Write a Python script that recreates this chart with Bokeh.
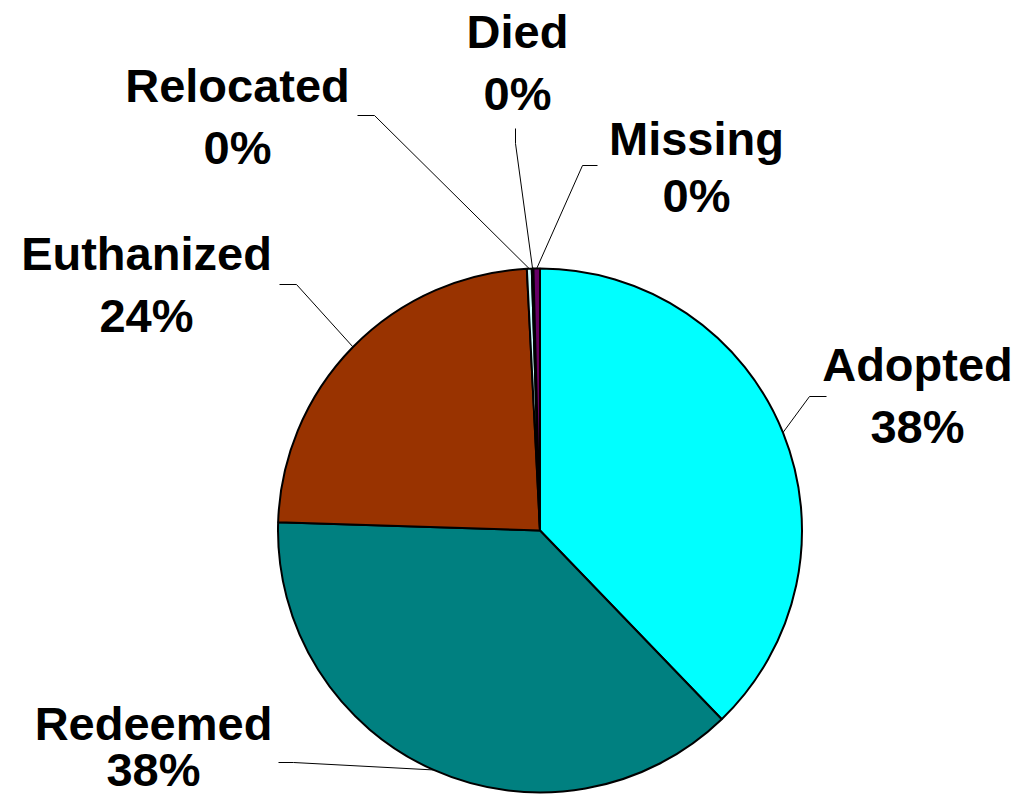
import math
from bokeh.plotting import figure
from bokeh.models import Range1d, ColumnDataSource
from bokeh.core.properties import value
from bokeh.embed import file_html
from bokeh.resources import INLINE

# ---- data ----
categories = ["Adopted", "Redeemed", "Euthanized", "Relocated", "Died", "Missing"]
percents = [37.8, 37.7, 23.7, 0.3, 0.1, 0.4]
colors = ["#00FFFF", "#008080", "#993300", "#CCFFFF", "#FFFFCC", "#660066"]

# ---- layout (pixel coordinates from the figure's top-left corner) ----
W, H = 1015, 796
CX, CY, R = 539.5, 530.0, 262.0
TEXT_SHIFT = 17  # renderer places alphabetic baseline this much lower
label_x = [917, 153, 146, 237, 517, 696]
name_base = [381, 740, 270, 102, 48, 155]
pct_base = [443, 786, 332, 164, 110, 212]
leader_start = [(826, 396), (278, 762), (279, 284), (357, 115), (515, 128), (597, 165)]
leader_knee = [(809, 396), (293, 762), (296, 284), (374, 115), (515, 143), (582, 165)]


def dy(sy):
    return H - sy


p = figure(width=W, height=H, x_range=Range1d(0, W), y_range=Range1d(0, H),
           output_backend="svg", toolbar_location=None, min_border=0,
           x_axis_type=None, y_axis_type=None)
p.grid.visible = False
p.outline_line_color = None
p.background_fill_color = "white"
p.border_fill_color = "white"

total = sum(percents)
starts, ends, mids = [], [], []
cum = 0.0
for v in percents:
    a0 = cum / total * 360.0
    cum += v
    a1 = cum / total * 360.0
    # clockwise from 12 o'clock -> bokeh anticlockwise from +x
    starts.append(math.radians(90.0 - a1))
    ends.append(math.radians(90.0 - a0))
    mids.append((a0 + a1) / 2.0)

# leader lines
xs, ys = [], []
for i, m in enumerate(mids):
    ex = CX + R * math.sin(math.radians(m))
    ey = CY - R * math.cos(math.radians(m))
    (sx, sy), (kx, ky) = leader_start[i], leader_knee[i]
    xs.append([sx, kx, ex])
    ys.append([dy(sy), dy(ky), dy(ey)])
p.multi_line(xs=xs, ys=ys, line_color="black", line_width=1)

src = ColumnDataSource(dict(start=starts, end=ends, color=colors))
p.wedge(x=CX, y=dy(CY), radius=R, start_angle="start", end_angle="end",
        direction="anticlock", fill_color="color", line_color="black",
        line_width=2, source=src)

names_src = ColumnDataSource(dict(x=label_x, y=[dy(b - TEXT_SHIFT) for b in name_base],
                                  t=categories))
pct_src = ColumnDataSource(dict(x=label_x, y=[dy(b - TEXT_SHIFT) for b in pct_base],
                                t=[f"{round(v)}%" for v in percents]))
for s in (names_src, pct_src):
    p.text(x="x", y="y", text="t", source=s, text_font=value("Liberation Sans"),
           text_font_style="bold", text_font_size="47px", text_color="black",
           text_align="center", text_baseline="alphabetic")

open("out.html", "w").write(file_html(p, INLINE))
